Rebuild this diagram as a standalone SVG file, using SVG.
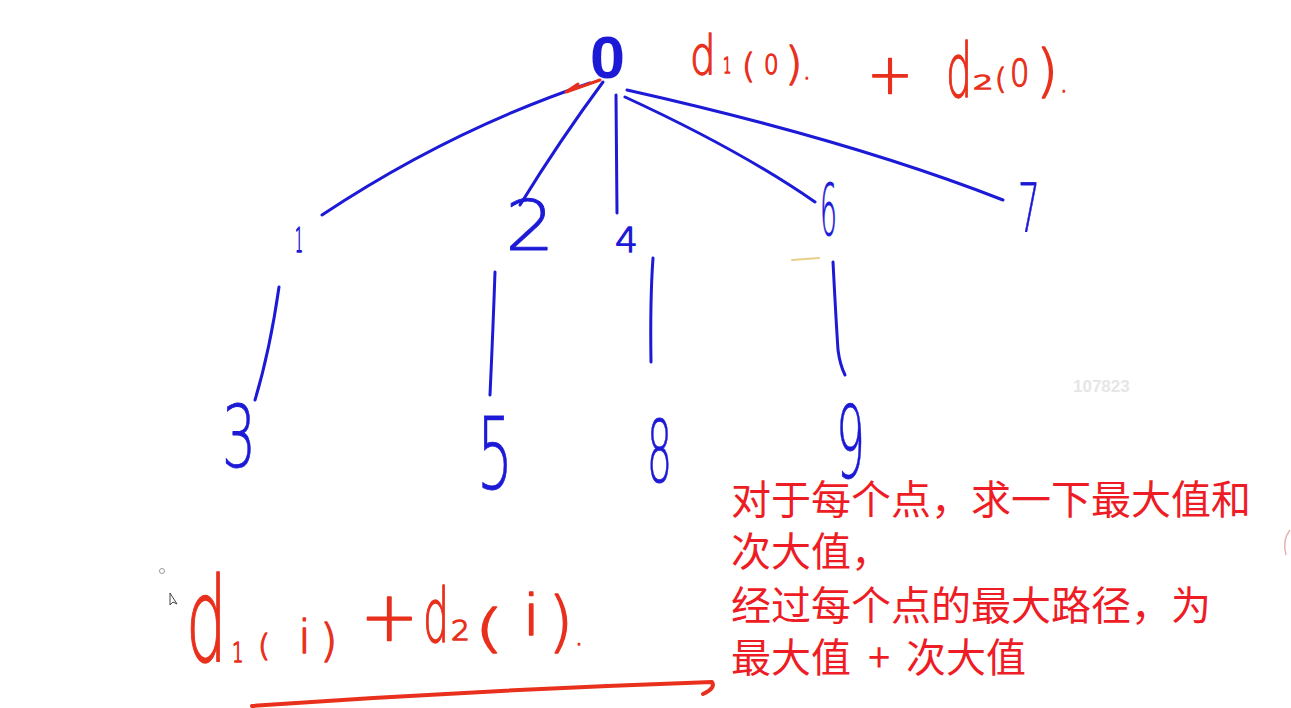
<svg xmlns="http://www.w3.org/2000/svg" width="1291" height="708" viewBox="0 0 1291 708">
<style>
.edge{fill:none;stroke:#1c1ad6;stroke-width:3;stroke-linecap:round;stroke-linejoin:round}
.dig{font-family:"DejaVu Sans ExtraLight","DejaVu Sans","Liberation Sans",sans-serif;font-weight:200;fill:#1c1ad6;stroke:#1c1ad6;stroke-width:0.8;stroke-linejoin:round}
.sm{stroke-width:1.3}
.root{font-family:"Liberation Sans",Arial,sans-serif;font-weight:bold;fill:#1c1ad6}
.hand{font-family:"DejaVu Sans ExtraLight","DejaVu Sans","Liberation Sans",sans-serif;font-weight:200;fill:#e8301c;stroke:#e8301c;stroke-width:1.4;stroke-linejoin:round}
.red{fill:none;stroke:#e8301c;stroke-linecap:round;stroke-linejoin:round}
.cn{font-family:"Noto Sans CJK SC","Noto Sans",sans-serif;font-size:40px;fill:#ee1c25}
</style>
<rect width="1291" height="708" fill="#ffffff"/>
<g id="connectors">
<path class="edge" d="M590,83 Q450,130 322,215"/>
<path class="edge" d="M603,82 Q560,140 520,205"/>
<path class="edge" d="M616,95 L617,213"/>
<path class="edge" d="M625,97 Q740,150 815,202"/>
<path class="edge" d="M627,90 Q850,140 1003,200"/>
<path class="edge" d="M279,287 Q270,350 255,400"/>
<path class="edge" d="M495,272 Q493,330 490,395"/>
<path class="edge" d="M653,258 Q650,300 651,362"/>
<path class="edge" d="M833,262 Q836,320 838,350 Q840,365 845,375"/>
</g>
<g id="node-0"><text class="root" x="590" y="78" font-size="60" textLength="35" lengthAdjust="spacingAndGlyphs">0</text></g>
<g id="node-1"><text class="dig sm" x="295" y="252" font-size="33" textLength="8" lengthAdjust="spacingAndGlyphs">1</text></g>
<g id="node-2"><text class="dig" x="505" y="250" font-size="70" textLength="50" lengthAdjust="spacingAndGlyphs">2</text></g>
<g id="node-4"><text class="dig sm" x="615" y="252" font-size="34" textLength="23" lengthAdjust="spacingAndGlyphs">4</text></g>
<g id="node-6"><text class="dig" x="820" y="235" font-size="71" textLength="17" lengthAdjust="spacingAndGlyphs">6</text></g>
<g id="node-7"><text class="dig" x="1018" y="232" font-size="67" textLength="22" lengthAdjust="spacingAndGlyphs">7</text></g>
<g id="node-3"><text class="dig" x="222" y="467" font-size="86" textLength="34" lengthAdjust="spacingAndGlyphs">3</text></g>
<g id="node-5"><text class="dig" x="477" y="489" font-size="99" textLength="36" lengthAdjust="spacingAndGlyphs">5</text></g>
<g id="node-8"><text class="dig" x="647" y="482" font-size="86" textLength="25" lengthAdjust="spacingAndGlyphs">8</text></g>
<g id="node-9"><text class="dig" x="836" y="478" font-size="100" textLength="29" lengthAdjust="spacingAndGlyphs">9</text></g>
<g id="formula-top-1">
<text class="hand" transform="translate(690,74) scale(0.75,1)" font-size="54">d</text>
<text class="hand" transform="translate(723,73) scale(0.6,1)" font-size="22">1</text>
<text class="hand" transform="translate(742,78)" font-size="33">(</text>
<text class="hand" transform="translate(764,74) scale(0.85,1)" font-size="27">0</text>
<text class="hand" transform="translate(785,79)" font-size="45">)</text>
<text class="hand" transform="translate(803,79)" font-size="24">.</text>
</g>
<g id="formula-top-plus"><text class="hand" transform="translate(867,93)" font-size="55">+</text></g>
<g id="formula-top-2">
<text class="hand" transform="translate(946,97) scale(0.55,1)" font-size="75">d</text>
<text class="hand" transform="translate(973,89) scale(1.6,1)" font-size="20">2</text>
<text class="hand" transform="translate(995,89)" font-size="29">(</text>
<text class="hand" transform="translate(1010,86) scale(0.8,1)" font-size="38">0</text>
<text class="hand" transform="translate(1036,90)" font-size="57">)</text>
<text class="hand" transform="translate(1060,92)" font-size="24">.</text>
</g>
<g id="formula-bottom">
<text class="hand" transform="translate(186,662) scale(0.55,1)" font-size="117">d</text>
<text class="hand" transform="translate(232,662) scale(0.7,1)" font-size="26">1</text>
<text class="hand" transform="translate(258,656)" font-size="31">(</text>
<text class="hand" transform="translate(298,653)" font-size="47">i</text>
<text class="hand" transform="translate(320,656)" font-size="45">)</text>
<text class="hand" transform="translate(360,640)" font-size="70">+</text>
<text class="hand" transform="translate(423,642) scale(0.55,1)" font-size="75">d</text>
<text class="hand" transform="translate(451,640) scale(1.1,1)" font-size="27">2</text>
<text class="hand" transform="translate(474,646) scale(1.5,1)" font-size="52">(</text>
<text class="hand" transform="translate(522,635) scale(1.2,1)" font-size="57">i</text>
<text class="hand" transform="translate(548,644)" font-size="65">)</text>
<text class="hand" transform="translate(575,645)" font-size="25">.</text>
</g>
<g id="marks">
<path class="red" stroke-width="3" d="M600,80 L566,92 M566,92 L578,84"/>
<path class="red" stroke-width="4" d="M252,706 Q480,690 712,682 Q716,688 703,694"/>
<path d="M792,260 L819,258" fill="none" stroke="#e9cf8a" stroke-width="2" stroke-linecap="round"/>
<circle cx="162" cy="571" r="2.5" fill="none" stroke="#999" stroke-width="1"/>
<path d="M170,593 L170,605 L173,602 L177,604 Z" fill="#fff" stroke="#444" stroke-width="1"/>
<path d="M1290,530 Q1282,540 1286,555" fill="none" stroke="#e8b0b0" stroke-width="1.5"/>
</g>
<g id="watermark"><text x="1073" y="392" font-family="Liberation Sans,Arial,sans-serif" font-size="17" font-weight="bold" fill="#e6e6e6">107823</text></g>
<g id="note">
<text class="cn"><tspan x="731" y="514">对于每个点，求一下最大值和</tspan><tspan x="731" y="566">次大值，</tspan><tspan x="731" y="620">经过每个点的最大路径，为</tspan><tspan x="731" y="672">最大值</tspan><tspan x="868" y="672">+</tspan><tspan x="906" y="672">次大值</tspan></text>
</g>
</svg>
